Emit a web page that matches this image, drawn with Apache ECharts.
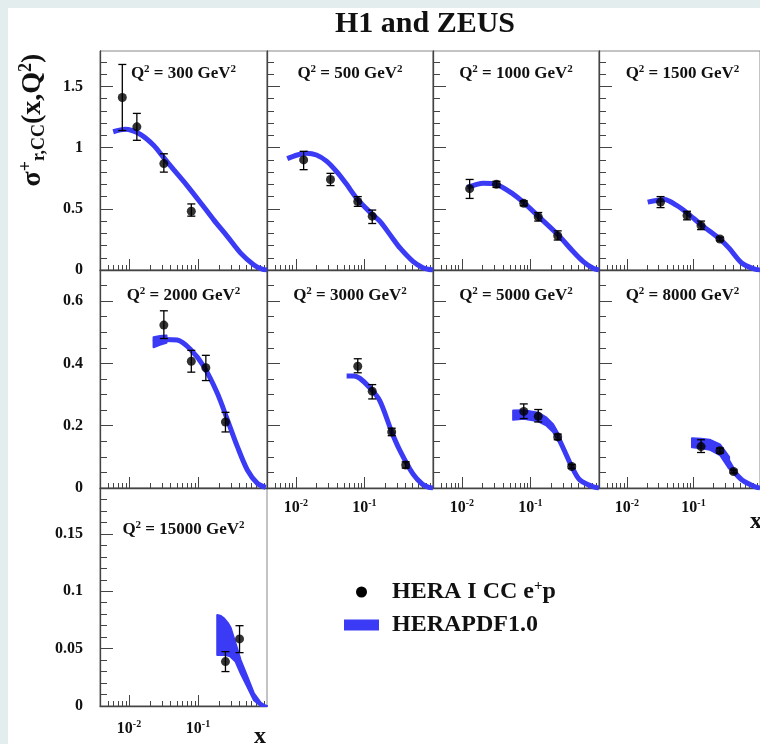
<!DOCTYPE html>
<html><head><meta charset="utf-8">
<script src="https://cdn.jsdelivr.net/npm/echarts@6/dist/echarts.min.js"></script>
<style>html,body{margin:0;padding:0;background:#e3eded;}#c{width:760px;height:744px;}</style>
</head><body><div id="c"></div>
<script>
// ---------------- data ----------------
const q2Labels = ['300', '500', '1000', '1500', '2000', '3000', '5000', '8000', '15000'];

// x axis ticks
const xMajorTicks = [0.01, 0.1];
const xTickExponents = ['-2', '-1'];
const xMinorTicks = [0.005, 0.006, 0.007, 0.008, 0.009, 0.02, 0.03, 0.04, 0.05, 0.06, 0.07, 0.08, 0.09,
  0.2, 0.3, 0.4, 0.5, 0.6, 0.7, 0.8, 0.9];
// y axis ticks per row
const yMajorRow1 = [0, 0.5, 1, 1.5];
const yMinorRow1 = [0.1, 0.2, 0.3, 0.4, 0.6, 0.7, 0.8, 0.9, 1.1, 1.2, 1.3, 1.4, 1.6, 1.7];
const yMajorRow2 = [0, 0.2, 0.4, 0.6];
const yMinorRow2 = [0.05, 0.1, 0.15, 0.25, 0.3, 0.35, 0.45, 0.5, 0.55, 0.65];
const yMajorRow3 = [0, 0.05, 0.1, 0.15];
const yMinorRow3 = [0.01, 0.02, 0.03, 0.04, 0.06, 0.07, 0.08, 0.09, 0.11, 0.12, 0.13, 0.14, 0.16, 0.17, 0.18];

// Q2 = 300
const q300X = [0.008, 0.013, 0.032, 0.08];
const q300Y = [1.41, 1.17, 0.87, 0.48];
const q300Lo = [1.14, 1.06, 0.80, 0.44];
const q300Hi = [1.68, 1.28, 0.95, 0.54];
const q300CurveX = [0.0059, 0.0088, 0.0145, 0.0227, 0.0317, 0.0444, 0.0695, 0.109, 0.169, 0.266, 0.415, 0.647, 0.85, 1.0];
const q300CurveY = [1.13, 1.15, 1.11, 1.02, 0.92, 0.82, 0.69, 0.55, 0.41, 0.275, 0.138, 0.041, 0.007, 0.0];

// Q2 = 500
const q500X = [0.013, 0.032, 0.08, 0.13];
const q500Y = [0.90, 0.74, 0.56, 0.44];
const q500Lo = [0.82, 0.69, 0.52, 0.38];
const q500Hi = [0.97, 0.79, 0.60, 0.49];
const q500CurveX = [0.0075, 0.0105, 0.0144, 0.02, 0.028, 0.04, 0.055, 0.08, 0.13, 0.17, 0.25, 0.33, 0.51, 0.7, 0.85, 1.0];
const q500CurveY = [0.91, 0.94, 0.955, 0.94, 0.89, 0.80, 0.70, 0.575, 0.455, 0.395, 0.27, 0.18, 0.07, 0.02, 0.006, 0.0];

// Q2 = 1000
const q1000X = [0.013, 0.032, 0.08, 0.13, 0.25];
const q1000Y = [0.665, 0.70, 0.545, 0.435, 0.28];
const q1000Lo = [0.585, 0.675, 0.525, 0.40, 0.245];
const q1000Hi = [0.74, 0.725, 0.565, 0.47, 0.32];
const q1000CurveX = [0.012, 0.0165, 0.0205, 0.032, 0.056, 0.08, 0.13, 0.25, 0.42, 0.59, 0.82, 1.0];
const q1000CurveY = [0.675, 0.70, 0.71, 0.70, 0.62, 0.55, 0.44, 0.29, 0.151, 0.068, 0.014, 0.0];

// Q2 = 1500
const q1500X = [0.032, 0.08, 0.13, 0.25];
const q1500Y = [0.555, 0.445, 0.363, 0.253];
const q1500Lo = [0.51, 0.41, 0.33, 0.238];
const q1500Hi = [0.60, 0.48, 0.40, 0.268];
const q1500CurveX = [0.0205, 0.0367, 0.055, 0.08, 0.13, 0.25, 0.343, 0.537, 0.84, 1.0];
const q1500CurveY = [0.555, 0.577, 0.53, 0.467, 0.371, 0.253, 0.179, 0.055, 0.006, 0.0];

// Q2 = 2000
const q2000X = [0.032, 0.08, 0.13, 0.25];
const q2000Y = [0.523, 0.407, 0.386, 0.212];
const q2000Lo = [0.48, 0.372, 0.345, 0.18];
const q2000Hi = [0.569, 0.442, 0.426, 0.243];
const q2000CurveX = [0.0227, 0.032, 0.05, 0.078, 0.121, 0.19, 0.267, 0.372, 0.519, 0.726, 0.96];
const q2000CurveY = [0.467, 0.477, 0.475, 0.445, 0.391, 0.305, 0.219, 0.133, 0.058, 0.015, 0.002];
const q2000BandX = [0.0227, 0.028, 0.035];
const q2000BandLo = [0.452, 0.46, 0.466];
const q2000BandHi = [0.484, 0.488, 0.49];

// Q2 = 3000
const q3000X = [0.08, 0.13, 0.25, 0.40];
const q3000Y = [0.391, 0.311, 0.18, 0.074];
const q3000Lo = [0.37, 0.286, 0.168, 0.064];
const q3000Hi = [0.415, 0.332, 0.192, 0.084];
const q3000CurveX = [0.055, 0.07, 0.086, 0.12, 0.168, 0.25, 0.33, 0.51, 0.7, 0.85, 1.0];
const q3000CurveY = [0.36, 0.36, 0.352, 0.322, 0.28, 0.18, 0.12, 0.045, 0.012, 0.003, 0.0];

// Q2 = 5000
const q5000X = [0.08, 0.13, 0.25, 0.40];
const q5000Y = [0.246, 0.23, 0.164, 0.069];
const q5000Lo = [0.223, 0.212, 0.155, 0.063];
const q5000Hi = [0.27, 0.252, 0.173, 0.075];
const q5000CurveX = [0.056, 0.08, 0.13, 0.172, 0.214, 0.25, 0.317, 0.40, 0.525, 0.82, 1.0];
const q5000CurveY = [0.234, 0.236, 0.228, 0.213, 0.193, 0.166, 0.117, 0.069, 0.026, 0.004, 0.0];
const q5000BandX = [0.056, 0.08, 0.13, 0.172, 0.214, 0.25];
const q5000BandLo = [0.219, 0.222, 0.214, 0.2, 0.18, 0.155];
const q5000BandHi = [0.249, 0.25, 0.242, 0.226, 0.205, 0.178];

// Q2 = 8000
const q8000X = [0.13, 0.25, 0.40];
const q8000Y = [0.133, 0.12, 0.053];
const q8000Lo = [0.114, 0.112, 0.048];
const q8000Hi = [0.155, 0.128, 0.058];
const q8000CurveX = [0.095, 0.13, 0.175, 0.25, 0.343, 0.40, 0.537, 0.84, 1.0];
const q8000CurveY = [0.145, 0.143, 0.138, 0.122, 0.08, 0.055, 0.026, 0.004, 0.0];
const q8000BandX = [0.095, 0.13, 0.175, 0.25, 0.343];
const q8000BandLo = [0.131, 0.128, 0.123, 0.106, 0.062];
const q8000BandHi = [0.16, 0.158, 0.155, 0.14, 0.1];

// Q2 = 15000
const q15000X = [0.25, 0.40];
const q15000Y = [0.0387, 0.0585];
const q15000Lo = [0.030, 0.0465];
const q15000Hi = [0.0474, 0.070];
const q15000BandX = [0.19, 0.215, 0.237, 0.27, 0.296, 0.35, 0.415, 0.519, 0.647, 0.81, 0.906, 1.0];
const q15000BandLo = [0.0445, 0.0445, 0.0445, 0.044, 0.043, 0.0387, 0.0285, 0.0168, 0.005, 0.0, 0.0, 0.0];
const q15000BandHi = [0.0794, 0.0785, 0.0765, 0.0725, 0.0685, 0.0547, 0.040, 0.0256, 0.011, 0.003, 0.001, 0.0];

const legendNames = ['HERA I CC e+p', 'HERAPDF1.0'];

// ---------------- layout / style ----------------
const XMIN = 0.0038, XMAX = 1;
const COL_LEFT = [100, 267, 433, 599];
const COL_W = [167, 166, 166, 167];
const ROW_TOP = [51, 270, 488];
const ROW_H = [219, 218, 218];
const ROW_YMAX = [1.79, 0.70, 0.19];
const ROW_YMAJOR = [yMajorRow1, yMajorRow2, yMajorRow3];
const ROW_YMINOR = [yMinorRow1, yMinorRow2, yMinorRow3];
const LABEL_Y = [74, 296, 530];
const BLUE = '#3b3bf6';
const AXIS_COL = '#444';
const FONT = "'Liberation Serif', 'Times New Roman', serif";

const panels = [
  {x: q300X, y: q300Y, lo: q300Lo, hi: q300Hi, cx: q300CurveX, cy: q300CurveY},
  {x: q500X, y: q500Y, lo: q500Lo, hi: q500Hi, cx: q500CurveX, cy: q500CurveY},
  {x: q1000X, y: q1000Y, lo: q1000Lo, hi: q1000Hi, cx: q1000CurveX, cy: q1000CurveY},
  {x: q1500X, y: q1500Y, lo: q1500Lo, hi: q1500Hi, cx: q1500CurveX, cy: q1500CurveY},
  {x: q2000X, y: q2000Y, lo: q2000Lo, hi: q2000Hi, cx: q2000CurveX, cy: q2000CurveY, bx: q2000BandX, blo: q2000BandLo, bhi: q2000BandHi},
  {x: q3000X, y: q3000Y, lo: q3000Lo, hi: q3000Hi, cx: q3000CurveX, cy: q3000CurveY, showX: true},
  {x: q5000X, y: q5000Y, lo: q5000Lo, hi: q5000Hi, cx: q5000CurveX, cy: q5000CurveY, bx: q5000BandX, blo: q5000BandLo, bhi: q5000BandHi, showX: true},
  {x: q8000X, y: q8000Y, lo: q8000Lo, hi: q8000Hi, cx: q8000CurveX, cy: q8000CurveY, bx: q8000BandX, blo: q8000BandLo, bhi: q8000BandHi, showX: true},
  {x: q15000X, y: q15000Y, lo: q15000Lo, hi: q15000Hi, bx: q15000BandX, blo: q15000BandLo, bhi: q15000BandHi, showX: true}
];

const grids = [], xAxes = [], yAxes = [], series = [], graphics = [];

graphics.push({type: 'rect', left: 8, top: 8, shape: {width: 760, height: 744}, style: {fill: '#ffffff'}, z: -10, silent: true});

const labelRich = {
  b: {fontFamily: FONT, fontWeight: 'bold', fontSize: 16, color: '#111', verticalAlign: 'middle'},
  e: {fontFamily: FONT, fontWeight: 'bold', fontSize: 10, color: '#111', padding: [0, 0, 9, 0], verticalAlign: 'middle'}
};

panels.forEach((p, i) => {
  const r = Math.floor(i / 4), c = i % 4;
  grids.push({left: COL_LEFT[c], top: ROW_TOP[r], width: COL_W[c], height: ROW_H[r], show: true,
    backgroundColor: '#ffffff', borderColor: '#888', borderWidth: 1});
  const xa = xAxes.length, ya = yAxes.length;
  xAxes.push({type: 'log', logBase: 10, gridIndex: i, position: 'bottom', min: XMIN, max: XMAX,
    axisLine: {show: true, onZero: false, lineStyle: {color: AXIS_COL, width: 1.3}},
    axisTick: {show: true, inside: true, length: 11, customValues: xMajorTicks, lineStyle: {color: AXIS_COL, width: 1}},
    axisLabel: {show: !!p.showX, customValues: xMajorTicks, margin: r === 2 ? 13 : 10,
      formatter: v => { const k = xMajorTicks.findIndex(t => Math.abs(t - v) < 1e-9); return '{b|10}{e|' + xTickExponents[k] + '}'; },
      rich: labelRich},
    splitLine: {show: false}, minorTick: {show: false}});
  xAxes.push({type: 'log', logBase: 10, gridIndex: i, position: 'bottom', min: XMIN, max: XMAX,
    axisLine: {show: false},
    axisTick: {show: true, inside: true, length: 5, customValues: xMinorTicks, lineStyle: {color: AXIS_COL, width: 1}},
    axisLabel: {show: false}, splitLine: {show: false}});
  yAxes.push({type: 'value', gridIndex: i, position: 'left', min: 0, max: ROW_YMAX[r],
    axisLine: {show: true, onZero: false, lineStyle: {color: AXIS_COL, width: 1.3}},
    axisTick: {show: true, inside: true, length: 13, customValues: ROW_YMAJOR[r], lineStyle: {color: AXIS_COL, width: 1}},
    axisLabel: {show: c === 0, customValues: ROW_YMAJOR[r], margin: 17, fontFamily: FONT, fontWeight: 'bold', fontSize: 16, color: '#111'},
    splitLine: {show: false}});
  yAxes.push({type: 'value', gridIndex: i, position: 'left', min: 0, max: ROW_YMAX[r],
    axisLine: {show: false},
    axisTick: {show: true, inside: true, length: 7, customValues: ROW_YMINOR[r], lineStyle: {color: AXIS_COL, width: 1}},
    axisLabel: {show: false}, splitLine: {show: false}});

  if (p.bx) {
    const bx = p.bx, blo = p.blo, bhi = p.bhi;
    series.push({type: 'custom', name: legendNames[1], xAxisIndex: xa, yAxisIndex: ya, z: 2, silent: true,
      data: bx.map((v, k) => [v, blo[k], bhi[k]]),
      renderItem: (params, api) => {
        if (params.dataIndex !== 0) return null;
        const pts = [];
        for (let k = 0; k < bx.length; k++) pts.push(api.coord([bx[k], bhi[k]]));
        for (let k = bx.length - 1; k >= 0; k--) pts.push(api.coord([bx[k], blo[k]]));
        return {type: 'polygon', shape: {points: pts}, style: {fill: BLUE, stroke: BLUE, lineWidth: 2, lineJoin: 'round'}};
      }});
  }
  if (p.cx) {
    series.push({type: 'line', name: legendNames[1], xAxisIndex: xa, yAxisIndex: ya, z: 3, silent: true,
      data: p.cx.map((v, k) => [v, p.cy[k]]), smooth: 0.3, symbol: 'none', showSymbol: false,
      lineStyle: {color: BLUE, width: 5, cap: 'butt'}, itemStyle: {color: BLUE}});
  }
  series.push({type: 'custom', name: legendNames[0], xAxisIndex: xa, yAxisIndex: ya, z: 4, silent: true,
    data: p.x.map((v, k) => [v, p.lo[k], p.hi[k]]),
    renderItem: (params, api) => {
      const t = api.coord([api.value(0), api.value(2)]);
      const b = api.coord([api.value(0), api.value(1)]);
      const hw = 4, st = {stroke: '#000', lineWidth: 1.3};
      return {type: 'group', children: [
        {type: 'line', shape: {x1: t[0], y1: t[1], x2: b[0], y2: b[1]}, style: st},
        {type: 'line', shape: {x1: t[0] - hw, y1: t[1], x2: t[0] + hw, y2: t[1]}, style: st},
        {type: 'line', shape: {x1: b[0] - hw, y1: b[1], x2: b[0] + hw, y2: b[1]}, style: st}
      ]};
    }});
  series.push({type: 'scatter', name: legendNames[0], xAxisIndex: xa, yAxisIndex: ya, z: 5, silent: true,
    data: p.x.map((v, k) => [v, p.y[k]]), symbol: 'circle', symbolSize: 9, itemStyle: {color: '#000'}});

  graphics.push({type: 'text', x: COL_LEFT[c] + COL_W[c] / 2, y: LABEL_Y[r], silent: true, z: 10,
    style: {text: '{m|Q}{s|2}{m| = ' + q2Labels[i] + ' GeV}{s|2}', align: 'center', verticalAlign: 'middle',
      rich: {m: {fontFamily: FONT, fontWeight: 'bold', fontSize: 17, fill: '#111', verticalAlign: 'middle'},
             s: {fontFamily: FONT, fontWeight: 'bold', fontSize: 11, fill: '#111', padding: [0, 0, 9, 0], verticalAlign: 'middle'}}}});
});

// title
graphics.push({type: 'text', x: 425, y: 24, silent: true, z: 10,
  style: {text: 'H1 and ZEUS', align: 'center', verticalAlign: 'middle', fontFamily: FONT, fontWeight: 'bold', fontSize: 30, fill: '#111'}});
// y-axis title
graphics.push({type: 'text', x: 33, y: 120, rotation: Math.PI / 2, silent: true, z: 10,
  style: {text: '{m|σ}{p|+}{s|r,CC}{m|(x,Q}{p|2}{m|)}', align: 'center', verticalAlign: 'middle',
    rich: {m: {fontFamily: FONT, fontWeight: 'bold', fontSize: 28, fill: '#111', verticalAlign: 'middle'},
           p: {fontFamily: FONT, fontWeight: 'bold', fontSize: 18, fill: '#111', padding: [0, 0, 14, 0], verticalAlign: 'middle'},
           s: {fontFamily: FONT, fontWeight: 'bold', fontSize: 18, fill: '#111', padding: [12, 0, 0, 0], verticalAlign: 'middle'}}}});
// x-axis titles
graphics.push({type: 'text', x: 750, y: 522, silent: true, z: 10,
  style: {text: 'x', align: 'left', verticalAlign: 'middle', fontFamily: FONT, fontWeight: 'bold', fontSize: 24, fill: '#111'}});
graphics.push({type: 'text', x: 260, y: 737, silent: true, z: 10,
  style: {text: 'x', align: 'center', verticalAlign: 'middle', fontFamily: FONT, fontWeight: 'bold', fontSize: 24, fill: '#111'}});

const chart = echarts.init(document.getElementById('c'), null, {renderer: 'canvas'});
chart.setOption({
  animation: false,
  backgroundColor: '#e3eded',
  grid: grids, xAxis: xAxes, yAxis: yAxes, series: series, graphic: graphics,
  legend: {
    left: 344, top: 579, padding: 0, orient: 'vertical', itemWidth: 35, itemHeight: 11, itemGap: 9,
    selectedMode: false,
    data: [
      {name: legendNames[0], icon: 'circle', itemStyle: {color: '#000'}},
      {name: legendNames[1], icon: 'rect', itemStyle: {color: BLUE}}
    ],
    formatter: n => n === legendNames[0] ? '{t|HERA I CC e}{s|+}{t|p}' : '{t|HERAPDF1.0}',
    textStyle: {padding: [0, 0, 0, 8], rich: {
      t: {fontFamily: FONT, fontWeight: 'bold', fontSize: 24, color: '#111', lineHeight: 26, verticalAlign: 'middle'},
      s: {fontFamily: FONT, fontWeight: 'bold', fontSize: 15, color: '#111', padding: [0, 0, 11, 0], verticalAlign: 'middle'}}}
  }
});
</script></body></html>
